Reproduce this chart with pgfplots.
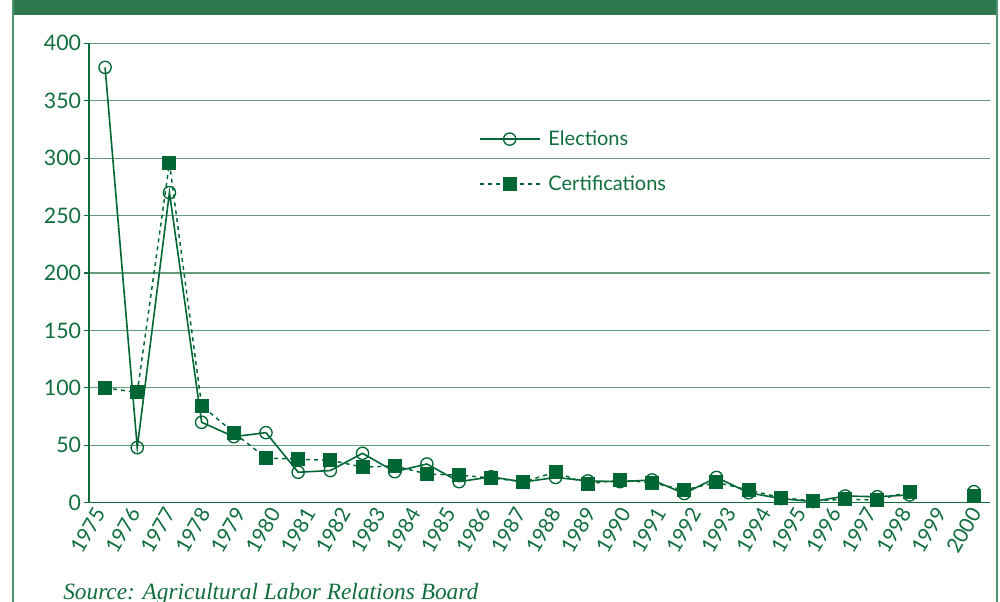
\documentclass[border=0pt]{standalone}
\usepackage{pgfplots}
\pgfplotsset{compat=1.18}
\usepackage{fontspec}
\setmainfont{Lato}
\newfontfamily\srcfont{Liberation Serif}
\definecolor{bargreen}{RGB}{46,121,77}
\definecolor{markgreen}{RGB}{0,102,51}
\definecolor{gridgreen}{RGB}{100,155,122}
\definecolor{textgreen}{RGB}{16,110,62}
\definecolor{framegreen}{RGB}{80,145,110}

% slots 0..27 on the x axis; slot 26 has no data
\pgfplotstableread{
slot elections certifications
0  379   100
1  48    96
2  270   295.8
3  70    84.5
4  57.5  61
5  61    39
6  26.5  37.8
7  28    37
8  43    31
9  27    32
10 33.7  25
11 18.3  24
12 22.5  21.5
13 18    18.3
14 22    26.5
15 19    16.3
16 18.3  19.8
17 19.8  17.4
18 8     11
19 22    17.7
20 8.7   11
21 3.5   4.4
22 1     1.5
23 5.8   3
24 5.2   2.3
25 6.7   9.6
26 nan   nan
27 9.6   5.8
}\datatable

\begin{document}
\begin{tikzpicture}
\useasboundingbox (0,0) rectangle (750pt,451.5pt);
\fill[white] (0,0) rectangle (750pt,451.5pt);
\fill[bargreen] (9pt,440.25pt) rectangle (748pt,451.5pt);
\draw[framegreen, line width=1.5pt] (9.5pt,0) -- (9.5pt,451.5pt);
\draw[framegreen, line width=1.5pt] (747.5pt,0) -- (747.5pt,451.5pt);

\begin{axis}[
  at={(66.75pt,74.475pt)}, anchor=south west,
  scale only axis,
  width=675.75pt, height=344.55pt,
  xmin=-0.5, xmax=27.5,
  ymin=0, ymax=400,
  ytick={0,50,...,400},
  axis x line*=bottom, axis y line*=left,
  axis line style={textgreen, line width=1.1pt},
  ymajorgrids,
  grid style={gridgreen, line width=0.8pt},
  tick align=outside,
  major tick length=3.75pt,
  tick style={textgreen, line width=0.8pt},
  xtick={-0.134,0.955,2.044,3.133,4.222,5.311,6.400,7.489,8.578,9.667,10.756,11.845,12.934,14.023,15.112,16.201,17.290,18.379,19.468,20.557,21.646,22.735,23.824,24.913,26.002,27.091},
  xticklabels={1975,1976,1977,1978,1979,1980,1981,1982,1983,1984,1985,1986,1987,1988,1989,1990,1991,1992,1993,1994,1995,1996,1997,1998,1999,2000},
  x tick style={draw=none},
  minor xtick={-0.5,0.5,...,27.5},
  minor tick length=3.75pt,
  minor x tick style={textgreen, line width=0.8pt},
  xticklabel style={rotate=60, anchor=east, font=\fontsize{15.5}{18}\selectfont, text=textgreen, inner sep=1.5pt},
  yticklabel style={font=\fontsize{16}{18}\selectfont, text=textgreen, inner sep=2pt},
  /pgf/number format/assume math mode=true,
  unbounded coords=jump,
  legend style={at={(0.428,0.816)}, anchor=north west, draw=none, fill=none,
    font=\fontsize{15}{18}\selectfont, text=textgreen,
    nodes={inner sep=0pt}, column sep=6pt, row sep=21pt},
  legend cell align=left,
  legend image code/.code={\draw[mark repeat=2,mark phase=2,#1] plot coordinates {(0pt,0pt) (22.5pt,0pt) (45pt,0pt)};},
]
\addplot[markgreen, line width=1.2pt, mark=o, mark size=4.6pt,
  mark options={solid, fill=white, line width=1pt}]
  table[x=slot, y=elections] {\datatable};
\addlegendentry{Elections}
\addplot[markgreen, line width=1.1pt, dash pattern=on 3pt off 3pt, mark=square*, mark size=4.7pt,
  mark options={solid, fill=markgreen}]
  table[x=slot, y=certifications] {\datatable};
\addlegendentry{Certifications}
\end{axis}

\node[anchor=base west, text=textgreen, inner sep=0pt, font=\srcfont\itshape\fontsize{17.5}{20}\selectfont]
  at (47.25pt,1.5pt) {Source: Agricultural Labor Relations Board};
\end{tikzpicture}
\end{document}
